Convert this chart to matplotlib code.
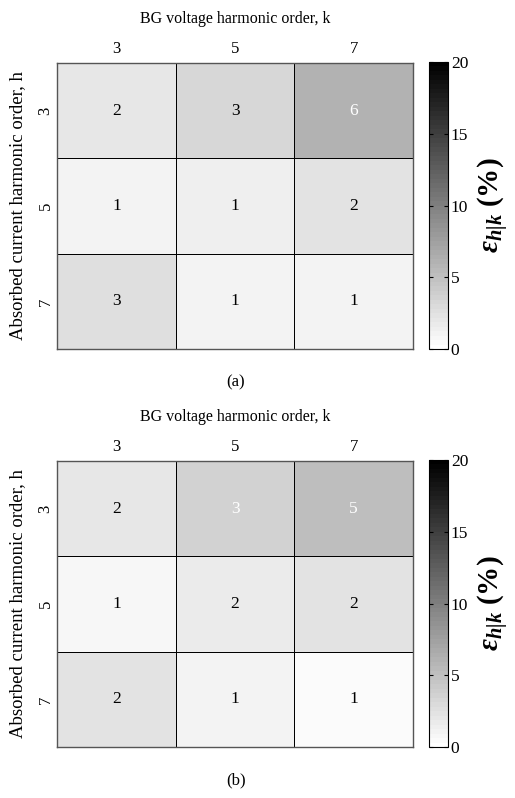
import numpy as np
import matplotlib
matplotlib.use("Agg")
import matplotlib.pyplot as plt
from matplotlib.colors import ListedColormap

plt.rcParams['font.family'] = ['Liberation Serif', 'DejaVu Serif']
plt.rcParams['mathtext.fontset'] = 'custom'
plt.rcParams['mathtext.rm'] = 'Liberation Serif'
plt.rcParams['mathtext.it'] = 'Liberation Serif:italic'
plt.rcParams['mathtext.bf'] = 'Liberation Serif:bold'
plt.rcParams['mathtext.bfit'] = 'Liberation Serif:bold:italic'

# Ordenes armonicos
orden_k = [3, 5, 7]
orden_h = [3, 5, 7]

# Error eps_h|k (%) para cada caso: filas h, columnas k
error_a = [[2.0, 3.2, 6.0],
           [1.0, 1.3, 2.3],
           [2.7, 1.0, 1.0]]
error_b = [[2.0, 3.45, 5.1],
           [0.8, 1.7, 2.2],
           [2.3, 1.0, 0.55]]

etiquetas = ["(a)", "(b)"]

# Mapa de grises invertido de 64 niveles
cmap = ListedColormap(np.repeat(np.linspace(1, 0, 64)[:, None], 3, axis=1))
vmin, vmax = 0, 20

W, H = 515, 798
fig = plt.figure(figsize=(W / 100, H / 100), dpi=100)


def caja(x0, y0, x1, y1):
    # convierte pixeles a coordenadas de figura
    return [x0 / W, 1 - y1 / H, (x1 - x0) / W, (y1 - y0) / H]


def dibuja(datos, top, etiqueta):
    bottom = top + 286
    ax = fig.add_axes(caja(57, top, 413, bottom))
    datos = np.array(datos)
    mesh = ax.pcolormesh(np.arange(4), np.arange(4), datos, cmap=cmap,
                         vmin=vmin, vmax=vmax, edgecolors='k', linewidth=0.6)
    ax.set_xlim(0, 3)
    ax.set_ylim(3, 0)
    ax.set_xticks(np.arange(3) + 0.5)
    ax.set_xticklabels([str(k) for k in orden_k])
    ax.set_yticks(np.arange(3) + 0.5)
    ax.set_yticklabels([str(h) for h in orden_h], rotation=90, va='center')
    ax.xaxis.tick_top()
    ax.xaxis.set_label_position('top')
    ax.tick_params(length=0, labelsize=12, pad=4)
    ax.tick_params(axis='y', pad=2.5)
    ax.set_xlabel("BG voltage harmonic order, k", fontsize=11.5, labelpad=13)
    ax.set_ylabel("Absorbed current harmonic order, h", fontsize=13.5, labelpad=8)
    for s in ax.spines.values():
        s.set_color('#555555')
        s.set_linewidth(1.0)

    for i in range(3):
        for j in range(3):
            v = datos[i, j]
            color = 'white' if v > 3.4 else 'black'
            ax.text(j + 0.5, i + 0.5, "%d" % round(v), ha='center', va='center',
                    fontsize=12.5, color=color)

    cax = fig.add_axes(caja(429, top - 1, 448, bottom))
    cb = fig.colorbar(mesh, cax=cax, ticks=[0, 5, 10, 15, 20])
    cb.outline.set_linewidth(0.8)
    cax.tick_params(direction='in', length=3, width=0.8, labelsize=12.5,
                    left=True, right=True, pad=2)
    cax.text(3.4, 0.5, r"$\mathbfit{\varepsilon_{h|k}}$ $\mathbf{(\%)}$",
             transform=cax.transAxes, rotation=90, ha='center', va='center',
             fontsize=21)

    fig.text(236 / W, 1 - (bottom + 33) / H, etiqueta, ha='center',
             va='center', fontsize=12)


dibuja(error_a, 63, etiquetas[0])
dibuja(error_b, 461, etiquetas[1])

fig.savefig("out.png", dpi=100)
